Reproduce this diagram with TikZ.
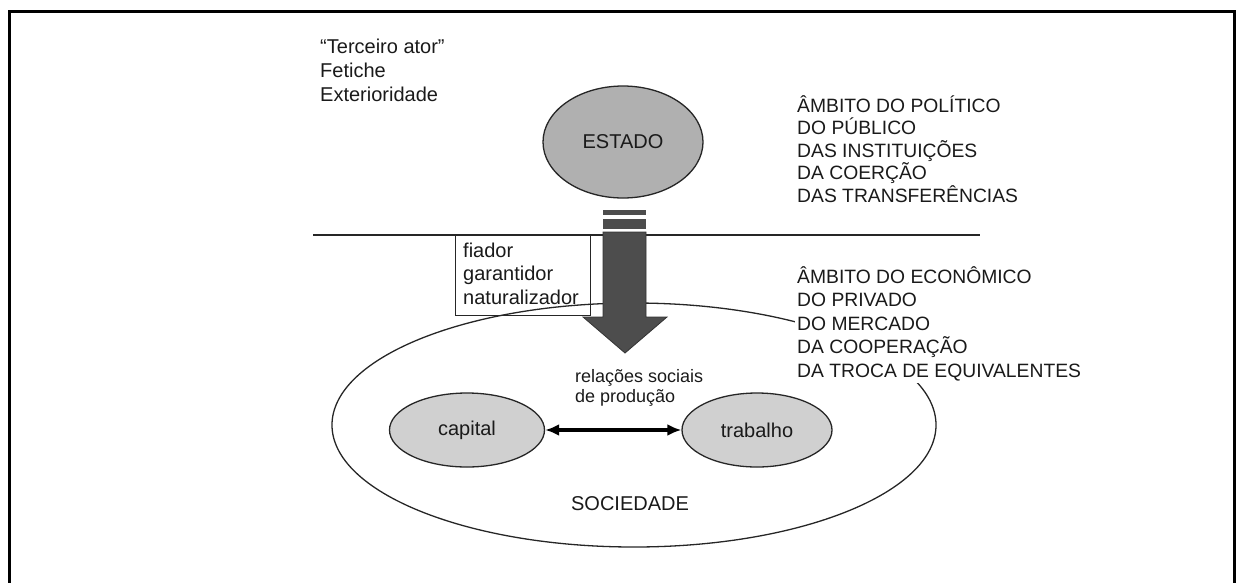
\documentclass[tikz,border=0pt]{standalone}
\usepackage{fontspec}
\setmainfont{Liberation Sans}
\usetikzlibrary{arrows.meta,shapes.geometric}
\definecolor{txtc}{HTML}{1A1A1A}
\definecolor{estadofill}{HTML}{B0B0B0}
\definecolor{ovalfill}{HTML}{D0D0D0}
\definecolor{arrowfill}{HTML}{4D4D4D}
\begin{document}
\begin{tikzpicture}[x=1pt,y=-1pt,
  blk/.style={inner sep=0pt, anchor=north west, align=left, text=txtc,
    font=\fontsize{20}{23.5}\selectfont},
  upper/.style={inner sep=0pt, anchor=north west, align=left, text=txtc,
    font=\fontsize{19.3}{22.5}\selectfont},
  lower/.style={inner sep=0pt, anchor=north west, align=left, text=txtc,
    font=\fontsize{19.3}{23.5}\selectfont},
  small/.style={inner sep=0pt, anchor=north west, align=left, text=txtc,
    font=\fontsize{18}{20.5}\selectfont},
  oval/.style={ellipse, draw=black!85, line width=1.3pt, inner sep=0pt,
    font=\fontsize{20}{23}\selectfont, text=txtc},
  thin/.style={draw=black!85, line width=1.3pt}
]
\useasboundingbox (0,0) rectangle (1236,582);
% frame
\draw[line width=3pt] (9,584) -- (9,11) -- (1234,11) -- (1234,584);

% society ellipse
\node[oval, minimum width=604pt, minimum height=244pt] (soc) at (634,425) {};
\node[text=txtc, inner sep=0pt, font=\fontsize{20}{23}\selectfont, anchor=base] (soctxt) at (630,510) {SOCIEDADE};

% horizontal separator
\coordinate (hl) at (313,235);
\coordinate (hr) at (980,235);
\draw[thin] (hl) -- (hr);

% estado
\node[oval, fill=estadofill, minimum width=160pt, minimum height=112pt] (estado) at (623,142) {ESTADO};

% left texts
\node[blk, font=\fontsize{20}{24}\selectfont] (left) at (320,33) {\rule{0pt}{20pt}“Terceiro ator”\\Fetiche\\Exterioridade};

% right upper
\node[upper] (pol) at (797,92) {\rule{0pt}{20pt}ÂMBITO DO POLÍTICO\\DO PÚBLICO\\DAS INSTITUIÇÕES\\DA COERÇÃO\\DAS TRANSFERÊNCIAS};

% fiador box
\node[draw=black!85, line width=1.2pt, minimum width=135pt, minimum height=80pt,
  inner sep=0pt, anchor=north west] (box) at (455,235) {};
\node[blk] (fiador) at (463,237) {\rule{0pt}{20pt}fiador\\garantidor\\naturalizador};

% arrow
\fill[arrowfill] (603,210) rectangle (646,215);
\fill[arrowfill] (603,219) rectangle (646,229);
\filldraw[fill=arrowfill, draw=black!80, line width=0.8pt]
  (603,232) -- (646,232) -- (646,317) -- (667,317) -- (625,353) -- (583,317) -- (603,317) -- cycle;

% right lower (white fill hides ellipse)
\node[lower, fill=white, inner xsep=2pt, inner ysep=2pt] (eco) at (795,261) {\rule{0pt}{20pt}ÂMBITO DO ECONÔMICO\\DO PRIVADO\\DO MERCADO\\DA COOPERAÇÃO\\DA TROCA DE EQUIVALENTES};

% relations
\node[small] (rel) at (575,362) {\rule{0pt}{20pt}relações sociais\\de produção};

\node[oval, fill=ovalfill, minimum width=155pt, minimum height=74pt] (cap) at (467,430) {capital};
\node[oval, fill=ovalfill, minimum width=150pt, minimum height=74pt] (trab) at (757,430) {trabalho};
\draw[line width=3.5pt, {Latex[length=14pt,width=12pt]}-{Latex[length=14pt,width=12pt]}] (cap) -- (trab);
\end{tikzpicture}
\end{document}
